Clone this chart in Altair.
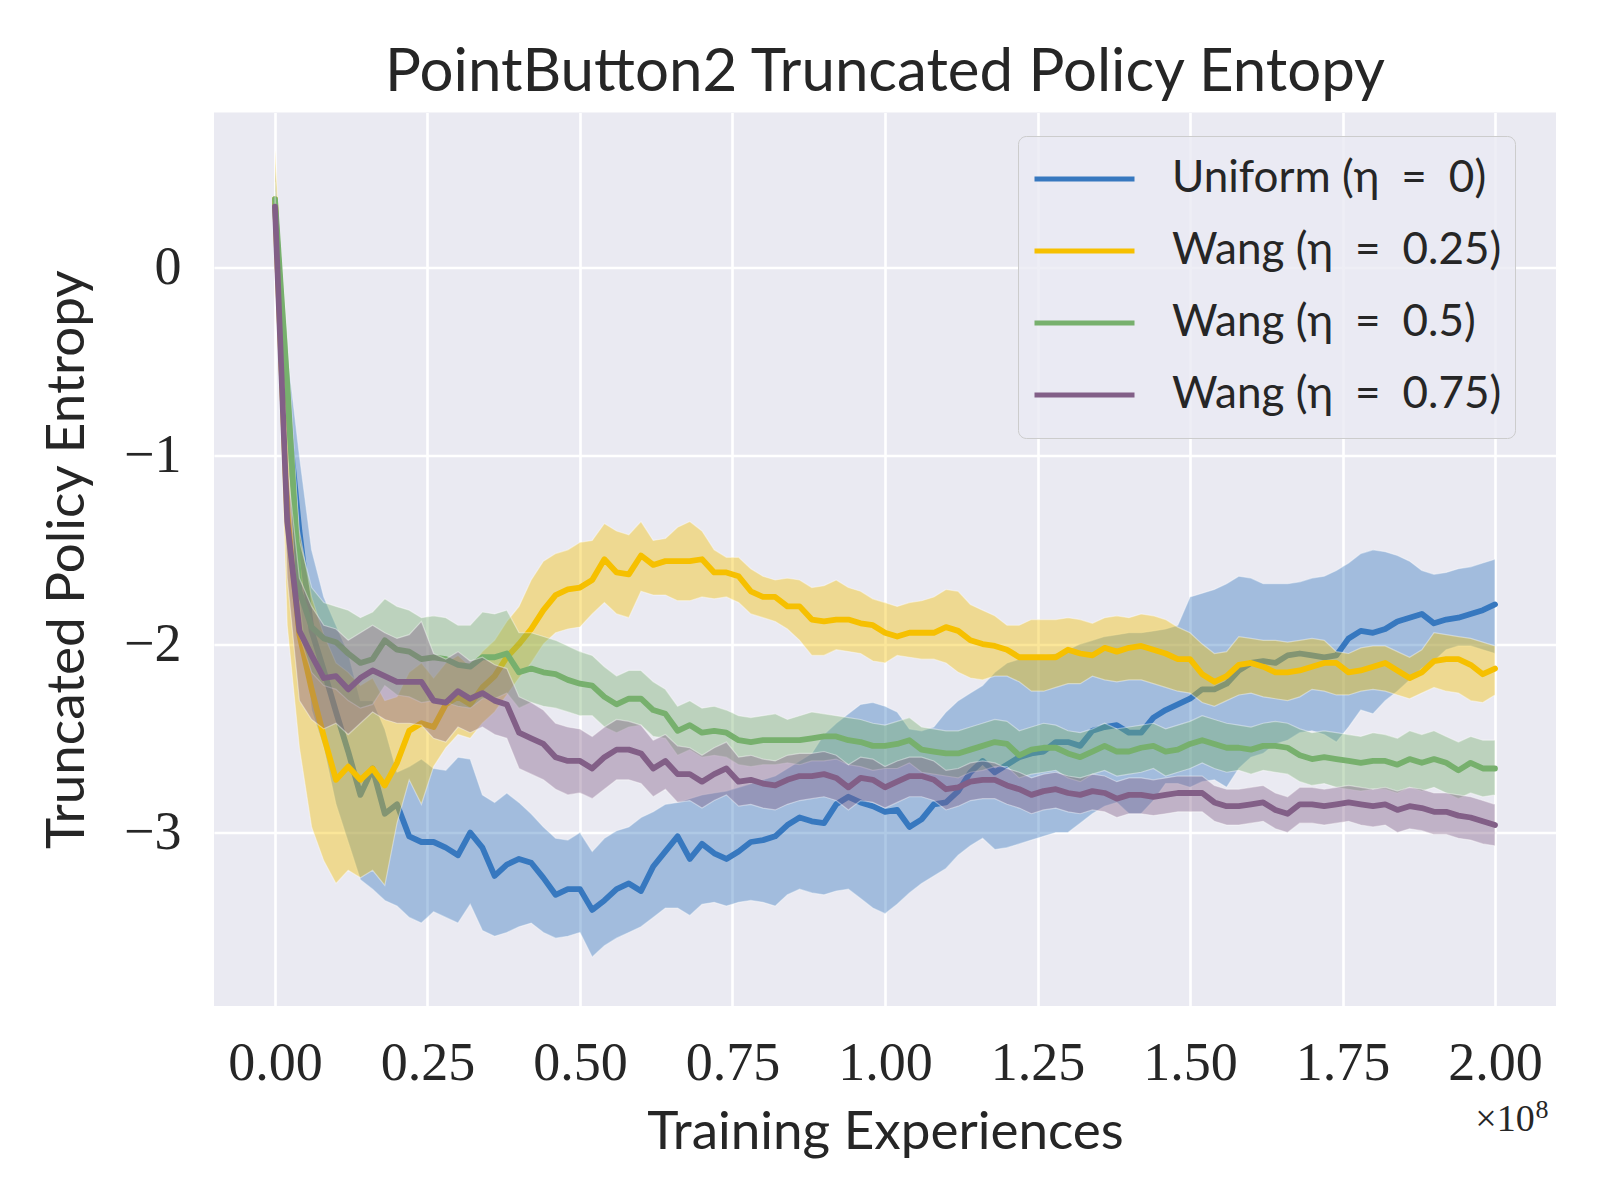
import altair as alt
import pandas as pd

# ---------------- data ----------------
X = [0.00, 0.02, 0.04, 0.06, 0.08, 0.10, 0.12, 0.14, 0.16, 0.18,
     0.20, 0.22, 0.24, 0.26, 0.28, 0.30, 0.32, 0.34, 0.36, 0.38,
     0.40, 0.42, 0.44, 0.46, 0.48, 0.50, 0.52, 0.54, 0.56, 0.58,
     0.60, 0.62, 0.64, 0.66, 0.68, 0.70, 0.72, 0.74, 0.76, 0.78,
     0.80, 0.82, 0.84, 0.86, 0.88, 0.90, 0.92, 0.94, 0.96, 0.98,
     1.00, 1.02, 1.04, 1.06, 1.08, 1.10, 1.12, 1.14, 1.16, 1.18,
     1.20, 1.22, 1.24, 1.26, 1.28, 1.30, 1.32, 1.34, 1.36, 1.38,
     1.40, 1.42, 1.44, 1.46, 1.48, 1.50, 1.52, 1.54, 1.56, 1.58,
     1.60, 1.62, 1.64, 1.66, 1.68, 1.70, 1.72, 1.74, 1.76, 1.78,
     1.80, 1.82, 1.84, 1.86, 1.88, 1.90, 1.92, 1.94, 1.96, 1.98,
     2.00]

TITLE = "PointButton2 Truncated Policy Entopy"
SERIES = ["Uniform (η\u2002=\u20020)", "Wang (η\u2002=\u20020.25)",
          "Wang (η\u2002=\u20020.5)", "Wang (η\u2002=\u20020.75)"]
COLORS = ["#3778bf", "#f6c000", "#77b06d", "#825f87"]

UNIFORM_MEAN = [0.33, -0.75, -1.40, -1.93, -2.14, -2.36, -2.57, -2.80, -2.66, -2.90,
                -2.85, -3.02, -3.05, -3.05, -3.08, -3.12, -3.00, -3.08, -3.23, -3.17,
                -3.14, -3.16, -3.24, -3.33, -3.30, -3.30, -3.41, -3.36, -3.30, -3.27,
                -3.31, -3.18, -3.10, -3.02, -3.14, -3.06, -3.11, -3.14, -3.10, -3.05,
                -3.04, -3.02, -2.96, -2.92, -2.94, -2.95, -2.85, -2.81, -2.84, -2.86,
                -2.89, -2.88, -2.97, -2.93, -2.85, -2.84, -2.78, -2.68, -2.62, -2.68,
                -2.64, -2.60, -2.58, -2.57, -2.52, -2.52, -2.54, -2.46, -2.44, -2.43,
                -2.47, -2.47, -2.39, -2.35, -2.32, -2.29, -2.24, -2.24, -2.21, -2.14,
                -2.10, -2.09, -2.10, -2.06, -2.05, -2.06, -2.07, -2.06, -1.97, -1.93,
                -1.94, -1.92, -1.88, -1.86, -1.84, -1.89, -1.87, -1.86, -1.84, -1.82,
                -1.79]
UNIFORM_LO = [0.15, -1.05, -1.75, -2.35, -2.55, -2.85, -3.05, -3.25, -3.30, -3.36,
              -3.39, -3.45, -3.48, -3.42, -3.45, -3.48, -3.38, -3.52, -3.55, -3.53,
              -3.50, -3.48, -3.53, -3.56, -3.55, -3.53, -3.66, -3.60, -3.56, -3.53,
              -3.50, -3.45, -3.40, -3.40, -3.44, -3.38, -3.37, -3.39, -3.37, -3.36,
              -3.37, -3.39, -3.33, -3.30, -3.32, -3.33, -3.31, -3.30, -3.35, -3.40,
              -3.43, -3.38, -3.32, -3.27, -3.23, -3.19, -3.12, -3.07, -3.03, -3.09,
              -3.08, -3.06, -3.04, -3.02, -3.00, -3.00, -2.95, -2.90, -2.86, -2.84,
              -2.90, -2.90, -2.83, -2.74, -2.74, -2.76, -2.73, -2.72, -2.76, -2.66,
              -2.60, -2.58, -2.53, -2.51, -2.47, -2.46, -2.48, -2.52, -2.44, -2.35,
              -2.37, -2.30, -2.25, -2.19, -2.13, -2.09, -2.03, -2.01, -2.01, -2.03,
              -2.05]
UNIFORM_HI = [0.55, -0.45, -1.00, -1.50, -1.75, -1.90, -2.05, -2.30, -2.30, -2.45,
              -2.68, -2.65, -2.61, -2.66, -2.67, -2.60, -2.61, -2.80, -2.84, -2.79,
              -2.84, -2.90, -2.97, -3.03, -3.04, -3.00, -3.10, -3.03, -2.99, -2.97,
              -2.92, -2.89, -2.85, -2.84, -2.82, -2.80, -2.79, -2.78, -2.76, -2.74,
              -2.72, -2.70, -2.66, -2.62, -2.58, -2.48, -2.42, -2.37, -2.32, -2.31,
              -2.33, -2.36, -2.45, -2.46, -2.44, -2.36, -2.30, -2.26, -2.22, -2.15,
              -2.10, -2.08, -2.07, -2.06, -2.05, -2.03, -2.00, -1.98, -1.96, -1.95,
              -1.94, -1.94, -1.93, -1.92, -1.90, -1.75, -1.73, -1.71, -1.68, -1.64,
              -1.65, -1.68, -1.68, -1.68, -1.67, -1.65, -1.64, -1.61, -1.57, -1.52,
              -1.50, -1.51, -1.53, -1.56, -1.61, -1.63, -1.62, -1.60, -1.59, -1.57,
              -1.55]

WANG25_MEAN = [0.36, -1.30, -1.95, -2.24, -2.49, -2.72, -2.65, -2.72, -2.66, -2.75,
               -2.63, -2.46, -2.42, -2.44, -2.32, -2.28, -2.32, -2.23, -2.17, -2.07,
               -2.00, -1.92, -1.82, -1.74, -1.71, -1.70, -1.66, -1.55, -1.62, -1.63,
               -1.53, -1.58, -1.56, -1.56, -1.56, -1.55, -1.62, -1.62, -1.64, -1.72,
               -1.75, -1.75, -1.80, -1.80, -1.87, -1.88, -1.87, -1.87, -1.89, -1.90,
               -1.94, -1.96, -1.94, -1.94, -1.94, -1.91, -1.93, -1.98, -2.00, -2.01,
               -2.03, -2.07, -2.07, -2.07, -2.07, -2.03, -2.05, -2.06, -2.02, -2.04,
               -2.02, -2.01, -2.03, -2.05, -2.08, -2.08, -2.16, -2.20, -2.17, -2.11,
               -2.10, -2.12, -2.15, -2.15, -2.14, -2.12, -2.10, -2.10, -2.15, -2.14,
               -2.12, -2.10, -2.14, -2.18, -2.15, -2.09, -2.08, -2.08, -2.11, -2.16,
               -2.13]
WANG25_LO = [0.10, -1.90, -2.55, -2.97, -3.15, -3.27, -3.20, -3.24, -3.20, -3.28,
             -2.95, -2.72, -2.85, -2.65, -2.55, -2.48, -2.50, -2.42, -2.36, -2.27,
             -2.18, -2.10, -2.00, -1.94, -1.92, -1.91, -1.84, -1.78, -1.84, -1.86,
             -1.72, -1.74, -1.74, -1.77, -1.77, -1.75, -1.76, -1.75, -1.78, -1.84,
             -1.86, -1.88, -1.92, -1.98, -2.06, -2.06, -2.03, -2.04, -2.05, -2.09,
             -2.10, -2.06, -2.07, -2.08, -2.08, -2.10, -2.15, -2.18, -2.19, -2.17,
             -2.17, -2.20, -2.25, -2.25, -2.23, -2.21, -2.21, -2.17, -2.19, -2.20,
             -2.19, -2.19, -2.21, -2.23, -2.25, -2.26, -2.31, -2.33, -2.30, -2.27,
             -2.26, -2.28, -2.29, -2.30, -2.28, -2.24, -2.25, -2.27, -2.27, -2.25,
             -2.24, -2.25, -2.27, -2.29, -2.26, -2.23, -2.25, -2.26, -2.30, -2.31,
             -2.27]
WANG25_HI = [0.62, -0.55, -1.40, -1.75, -1.95, -2.10, -2.15, -2.22, -2.18, -2.30,
             -2.28, -2.15, -2.10, -2.18, -2.10, -2.06, -2.12, -2.04, -1.98, -1.88,
             -1.80, -1.66, -1.56, -1.52, -1.50, -1.46, -1.45, -1.36, -1.40, -1.42,
             -1.35, -1.45, -1.44, -1.38, -1.35, -1.40, -1.50, -1.54, -1.54, -1.60,
             -1.64, -1.66, -1.65, -1.66, -1.70, -1.69, -1.66, -1.70, -1.72, -1.76,
             -1.78, -1.80, -1.78, -1.77, -1.75, -1.71, -1.72, -1.79, -1.82, -1.85,
             -1.90, -1.90, -1.87, -1.87, -1.87, -1.86, -1.87, -1.89, -1.86, -1.85,
             -1.86, -1.84, -1.85, -1.87, -1.91, -1.94, -2.00, -2.05, -2.04, -1.96,
             -1.97, -1.98, -1.98, -1.99, -1.98, -1.97, -1.98, -2.04, -2.05, -2.02,
             -2.01, -2.01, -2.04, -2.07, -2.03, -1.94, -1.95, -1.96, -1.97, -1.99,
             -2.01]

WANG50_MEAN = [0.36, -0.62, -1.72, -1.91, -1.97, -1.99, -2.05, -2.10, -2.08, -1.98,
               -2.03, -2.04, -2.08, -2.07, -2.08, -2.11, -2.12, -2.07, -2.07, -2.05,
               -2.15, -2.13, -2.15, -2.16, -2.19, -2.21, -2.22, -2.28, -2.32, -2.29,
               -2.29, -2.35, -2.37, -2.46, -2.43, -2.47, -2.46, -2.47, -2.51, -2.52,
               -2.51, -2.51, -2.51, -2.51, -2.50, -2.49, -2.49, -2.51, -2.52, -2.54,
               -2.54, -2.53, -2.51, -2.56, -2.57, -2.58, -2.58, -2.56, -2.54, -2.52,
               -2.53, -2.59, -2.56, -2.55, -2.55, -2.58, -2.60, -2.57, -2.54, -2.57,
               -2.57, -2.55, -2.54, -2.57, -2.56, -2.53, -2.51, -2.53, -2.55, -2.55,
               -2.56, -2.54, -2.54, -2.55, -2.59, -2.61, -2.60, -2.61, -2.62, -2.63,
               -2.62, -2.62, -2.64, -2.61, -2.63, -2.61, -2.63, -2.67, -2.63, -2.66,
               -2.66]
WANG50_LO = [0.20, -0.95, -1.95, -2.15, -2.22, -2.24, -2.30, -2.34, -2.32, -2.22,
             -2.27, -2.28, -2.31, -2.30, -2.31, -2.33, -2.34, -2.29, -2.29, -2.26,
             -2.34, -2.31, -2.33, -2.34, -2.36, -2.38, -2.38, -2.44, -2.47, -2.44,
             -2.43, -2.49, -2.50, -2.59, -2.56, -2.60, -2.59, -2.60, -2.64, -2.65,
             -2.64, -2.64, -2.63, -2.64, -2.62, -2.62, -2.61, -2.64, -2.65, -2.67,
             -2.66, -2.66, -2.63, -2.68, -2.69, -2.70, -2.71, -2.68, -2.67, -2.65,
             -2.65, -2.71, -2.69, -2.68, -2.67, -2.71, -2.73, -2.69, -2.67, -2.70,
             -2.69, -2.68, -2.66, -2.70, -2.68, -2.66, -2.63, -2.66, -2.68, -2.67,
             -2.69, -2.67, -2.68, -2.69, -2.73, -2.75, -2.74, -2.76, -2.77, -2.78,
             -2.77, -2.77, -2.79, -2.76, -2.78, -2.76, -2.79, -2.82, -2.79, -2.81,
             -2.80]
WANG50_HI = [0.45, -0.35, -1.45, -1.70, -1.78, -1.80, -1.82, -1.86, -1.83, -1.76,
             -1.80, -1.82, -1.86, -1.85, -1.86, -1.90, -1.90, -1.83, -1.84, -1.82,
             -1.94, -1.94, -1.96, -1.98, -2.01, -2.04, -2.06, -2.12, -2.17, -2.14,
             -2.14, -2.20, -2.24, -2.33, -2.30, -2.34, -2.33, -2.35, -2.38, -2.39,
             -2.38, -2.37, -2.40, -2.38, -2.36, -2.37, -2.38, -2.39, -2.40, -2.42,
             -2.43, -2.41, -2.39, -2.44, -2.45, -2.46, -2.46, -2.44, -2.42, -2.40,
             -2.41, -2.46, -2.44, -2.42, -2.43, -2.46, -2.47, -2.45, -2.42, -2.45,
             -2.44, -2.43, -2.42, -2.45, -2.43, -2.41, -2.38, -2.40, -2.42, -2.43,
             -2.44, -2.42, -2.41, -2.42, -2.45, -2.47, -2.46, -2.47, -2.48, -2.49,
             -2.47, -2.48, -2.50, -2.46, -2.48, -2.46, -2.49, -2.52, -2.49, -2.51,
             -2.51]

WANG75_MEAN = [0.32, -1.35, -1.93, -2.06, -2.18, -2.17, -2.24, -2.18, -2.14, -2.17,
               -2.20, -2.20, -2.20, -2.30, -2.31, -2.25, -2.29, -2.26, -2.30, -2.32,
               -2.47, -2.50, -2.53, -2.60, -2.62, -2.62, -2.66, -2.60, -2.56, -2.56,
               -2.58, -2.66, -2.62, -2.69, -2.69, -2.73, -2.69, -2.66, -2.73, -2.72,
               -2.74, -2.75, -2.72, -2.70, -2.70, -2.69, -2.71, -2.76, -2.71, -2.72,
               -2.76, -2.73, -2.70, -2.70, -2.72, -2.77, -2.76, -2.73, -2.72, -2.72,
               -2.75, -2.77, -2.80, -2.78, -2.77, -2.79, -2.80, -2.78, -2.79, -2.82,
               -2.80, -2.80, -2.81, -2.80, -2.79, -2.79, -2.79, -2.84, -2.86, -2.86,
               -2.85, -2.84, -2.88, -2.90, -2.85, -2.85, -2.86, -2.85, -2.84, -2.85,
               -2.86, -2.85, -2.88, -2.86, -2.87, -2.89, -2.89, -2.91, -2.92, -2.94,
               -2.96]
WANG75_LO = [0.22, -1.65, -2.30, -2.40, -2.45, -2.42, -2.48, -2.42, -2.36, -2.40,
             -2.42, -2.42, -2.43, -2.50, -2.52, -2.44, -2.47, -2.44, -2.48, -2.50,
             -2.66, -2.69, -2.72, -2.77, -2.80, -2.79, -2.82, -2.77, -2.72, -2.72,
             -2.74, -2.81, -2.77, -2.84, -2.83, -2.87, -2.83, -2.80, -2.86, -2.85,
             -2.87, -2.88, -2.85, -2.83, -2.82, -2.81, -2.83, -2.88, -2.83, -2.84,
             -2.87, -2.84, -2.81, -2.81, -2.83, -2.88, -2.86, -2.83, -2.82, -2.82,
             -2.85, -2.87, -2.90, -2.88, -2.87, -2.89, -2.90, -2.88, -2.89, -2.92,
             -2.90, -2.90, -2.91, -2.90, -2.89, -2.89, -2.89, -2.94, -2.96, -2.96,
             -2.95, -2.94, -2.98, -3.00, -2.95, -2.95, -2.96, -2.95, -2.94, -2.96,
             -2.97, -2.96, -3.00, -2.98, -2.99, -3.01, -3.01, -3.03, -3.04, -3.06,
             -3.07]
WANG75_HI = [0.40, -1.05, -1.65, -1.80, -1.90, -1.92, -1.98, -1.94, -1.90, -1.94,
             -1.97, -1.95, -1.88, -2.05, -2.08, -2.04, -2.09, -2.07, -2.11, -2.13,
             -2.28, -2.31, -2.35, -2.42, -2.44, -2.45, -2.49, -2.44, -2.40, -2.41,
             -2.43, -2.51, -2.48, -2.54, -2.55, -2.59, -2.55, -2.52, -2.60, -2.59,
             -2.61, -2.62, -2.59, -2.58, -2.58, -2.57, -2.59, -2.64, -2.60, -2.61,
             -2.65, -2.62, -2.60, -2.60, -2.62, -2.67, -2.66, -2.63, -2.62, -2.63,
             -2.66, -2.68, -2.71, -2.69, -2.68, -2.70, -2.71, -2.69, -2.70, -2.73,
             -2.71, -2.71, -2.72, -2.71, -2.70, -2.70, -2.70, -2.75, -2.77, -2.77,
             -2.76, -2.75, -2.79, -2.81, -2.76, -2.76, -2.77, -2.76, -2.75, -2.76,
             -2.77, -2.76, -2.78, -2.76, -2.77, -2.79, -2.79, -2.80, -2.81, -2.83,
             -2.85]

X_TICKS = [0.0, 0.25, 0.5, 0.75, 1.0, 1.25, 1.5, 1.75, 2.0]
Y_TICKS = [-3, -2, -1, 0]

# ---------------- table ----------------
MEANS = [UNIFORM_MEAN, WANG25_MEAN, WANG50_MEAN, WANG75_MEAN]
LOS = [UNIFORM_LO, WANG25_LO, WANG50_LO, WANG75_LO]
HIS = [UNIFORM_HI, WANG25_HI, WANG50_HI, WANG75_HI]

frames = []
for name, m, lo, hi in zip(SERIES, MEANS, LOS, HIS):
    frames.append(pd.DataFrame({"x": X, "mean": m, "lo": lo, "hi": hi, "series": name}))
df = pd.concat(frames, ignore_index=True)

W, H = 1342, 893.5
INK = "#262626"

xs = alt.Scale(domain=[-0.1, 2.1], nice=False, zero=False)
ys = alt.Scale(domain=[-3.92, 0.82], nice=False, zero=False)

x_axis = alt.Axis(values=X_TICKS, format=".2f", title="Training Experiences",
                  titleY=142, titleBaseline="alphabetic", labelFlush=False,
                  labelOverlap=False, labelPadding=30)
y_axis = alt.Axis(values=Y_TICKS, format="d", title="Truncated Policy Entropy",
                  titleX=-131, titleY=H / 2, titleAngle=270, titleAlign="center",
                  titleBaseline="alphabetic", labelOverlap=False, labelPadding=33)

legend = alt.Legend(title=None, orient="none", legendX=804, legendY=23.5,
                    symbolType="stroke", symbolSize=10000, symbolStrokeWidth=5,
                    clipHeight=58, rowPadding=14, padding=14,
                    labelFont="Lato", labelFontSize=44, labelColor=INK,
                    labelOffset=35, labelLimit=0,
                    fillColor="rgba(234,234,242,0.8)", strokeColor="#cccccc",
                    cornerRadius=8)

base = alt.Chart(df)
layers = []
for name, col in zip(SERIES, COLORS):
    sub = base.transform_filter(alt.datum.series == name)
    layers.append(
        sub.mark_area(fill=col, fillOpacity=0.4, stroke="white",
                      strokeOpacity=0.4, strokeWidth=1.2).encode(
            x=alt.X("x:Q", scale=xs, axis=x_axis),
            y=alt.Y("lo:Q", scale=ys, axis=y_axis),
            y2="hi:Q",
        )
    )
    layers.append(
        sub.mark_line(strokeJoin="round", strokeCap="round").encode(
            x=alt.X("x:Q", scale=xs, axis=x_axis),
            y=alt.Y("mean:Q", scale=ys, axis=y_axis),
            color=alt.Color("series:N",
                            scale=alt.Scale(domain=SERIES, range=COLORS),
                            sort=SERIES, legend=legend),
            strokeWidth=alt.value(5.8),
        )
    )

texts = pd.DataFrame({"title": [TITLE], "t": ["×10"], "e": ["8"]})
layers.append(
    alt.Chart(texts).mark_text(font="Lato", fontSize=60, align="center",
                               baseline="alphabetic", color=INK).encode(
        x=alt.value(W / 2), y=alt.value(-22), text="title:N")
)
layers.append(
    alt.Chart(texts).mark_text(font="Liberation Serif", fontSize=38, align="right",
                               baseline="alphabetic", color=INK).encode(
        x=alt.value(1320.7), y=alt.value(1018), text="t:N")
)
layers.append(
    alt.Chart(texts).mark_text(font="Liberation Serif", fontSize=26, align="left",
                               baseline="alphabetic", color=INK).encode(
        x=alt.value(1321.5), y=alt.value(1005), text="e:N")
)

chart = alt.layer(*layers).properties(
    width=W, height=H,
    autosize=alt.AutoSizeParams(type="none"),
    padding={"left": 206, "top": 104.5, "right": 30, "bottom": 180},
).configure(
    background="white"
).configure_view(
    fill="#EAEAF2", strokeWidth=0
).configure_axis(
    grid=True, gridColor="white", gridWidth=2.6, gridOpacity=1,
    domain=False, ticks=False, tickSize=0,
    labelFont="Liberation Serif", labelFontSize=54, labelColor=INK,
    titleFont="Lato", titleFontSize=53, titleFontWeight="normal", titleColor=INK,
)

chart.save("out.html", embed_options={"renderer": "svg", "actions": False})
